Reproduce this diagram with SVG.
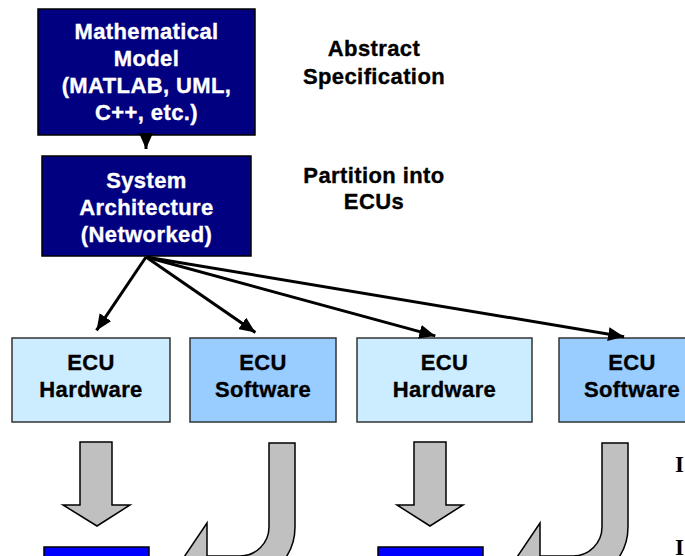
<svg xmlns="http://www.w3.org/2000/svg" width="685" height="556" viewBox="0 0 685 556">
<style>
.navy{fill:#000080;stroke:#000;stroke-width:1.5}
.hw{fill:#CCECFF;stroke:#333;stroke-width:1.5}
.sw{fill:#99CCFF;stroke:#333;stroke-width:1.5}
.blue{fill:#0000FF;stroke:#000;stroke-width:1.5}
.gray{fill:#C0C0C0;stroke:#000;stroke-width:1.5;stroke-linejoin:miter}
.t{font-family:"Liberation Sans",Arial,sans-serif;font-weight:bold;font-size:22px;text-anchor:middle;letter-spacing:0.4px;stroke-width:0.35px}
.w{fill:#fff;stroke:#fff}
.k{fill:#000;stroke:#000}
.conn line{stroke:#000;stroke-width:3}
.ser{font-family:"Liberation Serif","Times New Roman",serif;font-weight:bold;font-size:23px;fill:#000}
</style>
<defs>
<marker id="ah" viewBox="0 0 16 14" markerWidth="16" markerHeight="14" refX="16" refY="7" orient="auto" markerUnits="userSpaceOnUse">
<path d="M0,0 L16,7 L0,14 z" fill="#000"/>
</marker>
</defs>
<rect width="685" height="556" fill="#fff"/>

<g id="math-model">
<rect class="navy" x="38" y="9" width="217" height="126"/>
<text class="t w" x="146.5" y="39">Mathematical</text>
<text class="t w" x="146.5" y="66">Model</text>
<text class="t w" x="146.5" y="93">(MATLAB, UML,</text>
<text class="t w" x="146.5" y="120">C++, etc.)</text>
</g>

<g id="system-arch">
<rect class="navy" x="42" y="156" width="209" height="100"/>
<text class="t w" x="146.5" y="188">System</text>
<text class="t w" x="146.5" y="215">Architecture</text>
<text class="t w" x="146.5" y="242">(Networked)</text>
</g>

<g id="label-abstract">
<text class="t k" x="374" y="56">Abstract</text>
<text class="t k" x="374" y="84">Specification</text>
</g>
<g id="label-partition">
<text class="t k" x="374" y="183">Partition into</text>
<text class="t k" x="374" y="209">ECUs</text>
</g>

<g id="ecu-hw-1">
<rect class="hw" x="12" y="338" width="158" height="84"/>
<text class="t k" x="91" y="370">ECU</text>
<text class="t k" x="91" y="397">Hardware</text>
</g>
<g id="ecu-sw-1">
<rect class="sw" x="190" y="338" width="146" height="84"/>
<text class="t k" x="263" y="370">ECU</text>
<text class="t k" x="263" y="397">Software</text>
</g>
<g id="ecu-hw-2">
<rect class="hw" x="357" y="338" width="175" height="84"/>
<text class="t k" x="444.5" y="370">ECU</text>
<text class="t k" x="444.5" y="397">Hardware</text>
</g>
<g id="ecu-sw-2">
<rect class="sw" x="559" y="338" width="146" height="84"/>
<text class="t k" x="632" y="370">ECU</text>
<text class="t k" x="632" y="397">Software</text>
</g>

<g id="impl-1">
<rect class="blue" x="44" y="547" width="105" height="30"/>
</g>
<g id="impl-2">
<rect class="blue" x="378" y="547" width="105" height="30"/>
</g>

<g id="block-arrows">
<path class="gray" d="M80,442 H112 V505 H130 L97,526 L63,505 H80 Z"/>
<path class="gray" d="M414,442 H446 V505 H463 L430,526 L397,505 H414 Z"/>
<path class="gray" d="M269,443 H295 V527 A55,55 0 0 1 240,582 H207 V615 L176,569 L207,523 V556 H240 A29,29 0 0 0 269,527 Z"/>
<path class="gray" d="M602,443 H628 V527 A55,55 0 0 1 573,582 H540 V615 L509,569 L540,523 V556 H573 A29,29 0 0 0 602,527 Z"/>
</g>

<g id="edge-text">
<text class="ser" x="675" y="472">I</text>
<text class="ser" x="675" y="555">I</text>
</g>

<g id="connectors" class="conn">
<line x1="146" y1="135" x2="146" y2="149" marker-end="url(#ah)"/>
<line x1="146" y1="257" x2="96.5" y2="330.4" marker-end="url(#ah)"/>
<line x1="146" y1="257" x2="255.4" y2="332.5" marker-end="url(#ah)"/>
<line x1="146" y1="257" x2="435.3" y2="335.9" marker-end="url(#ah)"/>
<line x1="146" y1="257" x2="624.1" y2="336.7" marker-end="url(#ah)"/>
</g>
</svg>
